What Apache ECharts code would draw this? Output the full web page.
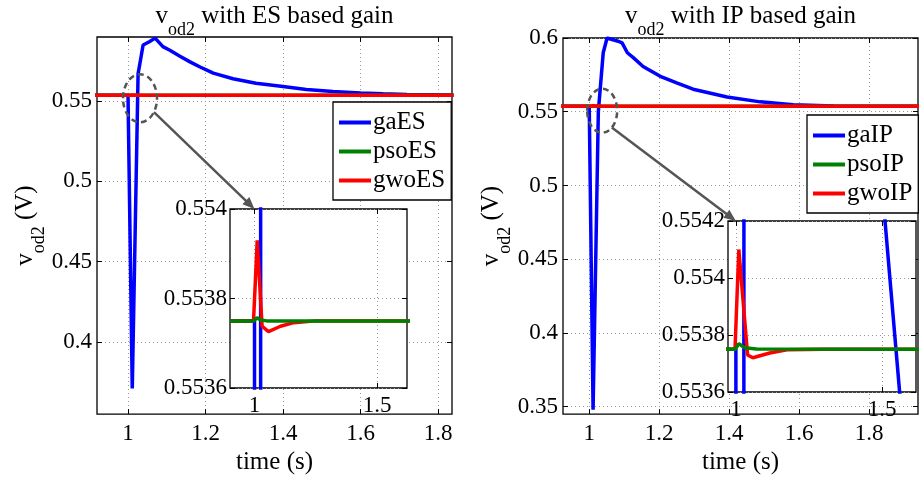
<!DOCTYPE html>
<html>
<head>
<meta charset="utf-8">
<script src="https://cdn.jsdelivr.net/npm/echarts@6/dist/echarts.min.js"></script>
<style>
html, body { margin: 0; padding: 0; background: #fff; }
#chart { width: 919px; height: 480px; }
</style>
</head>
<body>
<div id="chart"></div>
<script>
// tick positions
var timeTicks = [1, 1.2, 1.4, 1.6, 1.8];
var zoomTimeTicks = [1, 1.5];
var esTicks = [0.4, 0.45, 0.5, 0.55];
var ipTicks = [0.35, 0.4, 0.45, 0.5, 0.55, 0.6];
var esZoomTicks = [0.5536, 0.5538, 0.554];
var ipZoomTicks = [0.5536, 0.5538, 0.554, 0.5542];

// ES based gain
var gaEsTime = [0.9, 1.0, 1.011, 1.026, 1.039, 1.055, 1.07, 1.09, 1.108, 1.134, 1.16, 1.186, 1.22, 1.271, 1.33, 1.4, 1.46, 1.529, 1.6, 1.658, 1.72, 1.84];
var gaEsVal = [0.55375, 0.55375, 0.371, 0.567, 0.585, 0.587, 0.5893, 0.584, 0.5817, 0.578, 0.5745, 0.5713, 0.5675, 0.564, 0.5612, 0.5592, 0.5573, 0.556, 0.5551, 0.5546, 0.5541, 0.5538];
var psoEsTime = [0.9, 0.998, 1.01, 1.025, 1.05, 1.84];
var psoEsVal = [0.55375, 0.55375, 0.553757, 0.553752, 0.55375, 0.55375];
var gwoEsTime = [0.9, 0.996, 1.011, 1.031, 1.057, 1.106, 1.16, 1.25, 1.84];
var gwoEsVal = [0.55375, 0.55375, 0.55393, 0.553738, 0.553726, 0.553738, 0.553746, 0.55375, 0.55375];

// IP based gain
var gaIpTime = [0.9, 1.0, 1.011, 1.026, 1.04, 1.051, 1.08, 1.094, 1.109, 1.126, 1.154, 1.203, 1.25, 1.297, 1.394, 1.489, 1.583, 1.7, 1.95];
var gaIpVal = [0.55375, 0.55375, 0.348, 0.55, 0.59, 0.6, 0.598, 0.5967, 0.59, 0.5867, 0.5807, 0.574, 0.5695, 0.5653, 0.56, 0.5567, 0.5547, 0.5539, 0.5537];
var gaIpZoomTime = [0.9, 1.0, 1.011, 1.026, 1.04, 1.051, 1.5, 1.51, 1.56, 1.62];
var gaIpZoomVal = [0.55375, 0.55375, 0.348, 0.55, 0.59, 0.6, 0.5546, 0.5542, 0.5536, 0.5529];
var psoIpTime = [0.9, 0.998, 1.01, 1.03, 1.07, 1.95];
var psoIpVal = [0.55375, 0.55375, 0.55377, 0.553755, 0.553751, 0.55375];
var gwoIpTime = [0.9, 0.997, 1.01, 1.04, 1.058, 1.116, 1.175, 1.3, 1.95];
var gwoIpVal = [0.55375, 0.55375, 0.5541, 0.55373, 0.55372, 0.553737, 0.553748, 0.55375, 0.55375];

var FONT = 'Liberation Serif';
var BLUE = '#0000ff', GREEN = '#008000', RED = '#ff0000';

function zip(t, v) {
	return t.map(function (x, i) { return [x, v[i]]; });
}

// grids: 0 ES main, 1 IP main, 2 ES zoom, 3 IP zoom
var boxes = [
	{ left: 97, top: 37, width: 355, height: 385 },
	{ left: 563, top: 38, width: 355, height: 384 },
	{ left: 230, top: 209, width: 177, height: 179 },
	{ left: 728, top: 221, width: 188, height: 171 }
];
var xRange = [[0.92, 1.836], [0.925, 1.94], [0.9, 1.622], [0.973, 1.616]];
var yRange = [[0.355, 0.59], [0.345, 0.6], [0.5536, 0.554], [0.5536, 0.5542]];
var xTickSets = [timeTicks, timeTicks, zoomTimeTicks, zoomTimeTicks];
var yTickSets = [esTicks, ipTicks, esZoomTicks, ipZoomTicks];

// v with subscript od2
function richSub(key) {
	var o = {
		v: { fontSize: 25, fontFamily: FONT, lineHeight: 26, verticalAlign: 'top' },
		s: { fontSize: 18, fontFamily: FONT, lineHeight: 18, padding: [17, 0, 0, 0], verticalAlign: 'top' }
	};
	o.v[key] = '#000';
	o.s[key] = '#000';
	return o;
}

function axis(dim, i, mirror) {
	var zoom = i >= 2;
	var ticks = dim === 'x' ? xTickSets[i] : yTickSets[i];
	var range = dim === 'x' ? xRange[i] : yRange[i];
	var a = {
		type: 'value',
		gridIndex: i,
		min: range[0],
		max: range[1],
		z: zoom ? 6 : 0,
		axisLine: { show: false },
		axisTick: { show: true, inside: true, length: 5, customValues: ticks, lineStyle: { color: '#000' } },
		axisLabel: {
			show: !mirror,
			customValues: ticks,
			fontFamily: FONT,
			fontSize: 23,
			color: '#000',
			margin: dim === 'x' ? (zoom ? 6 : 8) : (zoom ? 3 : 5)
		},
		splitLine: { show: !mirror, lineStyle: { color: '#999', width: 1, type: [1, 3] } }
	};
	if (dim === 'x') a.position = mirror ? 'top' : 'bottom';
	else a.position = mirror ? 'right' : 'left';
	if (!mirror && !zoom) {
		if (dim === 'x') {
			a.name = 'time (s)';
			a.nameLocation = 'middle';
			a.nameGap = 28;
			a.nameTextStyle = { fontFamily: FONT, fontSize: 25, color: '#000' };
		} else {
			a.name = '{v|v}{s|od2}{v| (V)}';
			a.nameLocation = 'middle';
			a.nameRotate = 90;
			a.nameGap = 55;
			a.nameTextStyle = { rich: richSub('color') };
		}
	}
	return a;
}

var xAxes = [], yAxes = [];
[false, true].forEach(function (m) {
	for (var i = 0; i < 4; i++) {
		xAxes.push(axis('x', i, m));
		yAxes.push(axis('y', i, m));
	}
});

function line(name, grid, data, color, z) {
	return {
		name: name,
		type: 'line',
		xAxisIndex: grid,
		yAxisIndex: grid,
		data: data,
		symbol: 'none',
		showSymbol: false,
		clip: true,
		z: z,
		lineStyle: { color: color, width: 3.5 },
		itemStyle: { color: color },
		animation: false
	};
}

var series = [
	line('gaES', 0, zip(gaEsTime, gaEsVal), BLUE, 2),
	line('psoES', 0, zip(psoEsTime, psoEsVal), GREEN, 2),
	line('gwoES', 0, zip(gwoEsTime, gwoEsVal), RED, 3),
	line('gaES', 2, zip(gaEsTime, gaEsVal), BLUE, 10),
	line('gwoES', 2, zip(gwoEsTime, gwoEsVal), RED, 11),
	line('psoES', 2, zip(psoEsTime, psoEsVal), GREEN, 12),
	line('gaIP', 1, zip(gaIpTime, gaIpVal), BLUE, 2),
	line('psoIP', 1, zip(psoIpTime, psoIpVal), GREEN, 2),
	line('gwoIP', 1, zip(gwoIpTime, gwoIpVal), RED, 3),
	line('gaIP', 3, zip(gaIpZoomTime, gaIpZoomVal), BLUE, 10),
	line('gwoIP', 3, zip(gwoIpTime, gwoIpVal), RED, 11),
	line('psoIP', 3, zip(psoIpTime, psoIpVal), GREEN, 12)
];

function legend(names, left, top) {
	return {
		data: names,
		orient: 'vertical',
		left: left,
		top: top,
		padding: [8, 6, 7, 6],
		itemGap: 4,
		itemWidth: 32,
		itemHeight: 4,
		icon: 'rect',
		backgroundColor: '#fff',
		borderColor: '#000',
		borderWidth: 1.3,
		textStyle: { fontFamily: FONT, fontSize: 25, color: '#000', padding: [0, 0, 0, -3] }
	};
}

var chart = echarts.init(document.getElementById('chart'), null, { renderer: 'canvas' });
chart.setOption({
	backgroundColor: '#fff',
	animation: false,
	grid: boxes.map(function (b, i) {
		return {
			left: b.left, top: b.top, width: b.width, height: b.height,
			show: true,
			z: i >= 2 ? 5 : 0,
			backgroundColor: '#fff',
			borderColor: '#000',
			borderWidth: 1.3
		};
	}),
	xAxis: xAxes,
	yAxis: yAxes,
	legend: [
		legend(['gaES', 'psoES', 'gwoES'], 333, 102),
		legend(['gaIP', 'psoIP', 'gwoIP'], 807, 115)
	],
	series: series
});

// titles, dashed ellipses and arrows
function title(i, label) {
	return {
		type: 'text',
		x: boxes[i].left + boxes[i].width / 2,
		y: 4,
		z: 20,
		style: {
			text: '{v|v}{s|od2}{v| ' + label + '}',
			align: 'center',
			rich: richSub('fill')
		}
	};
}

function callout(mainGrid, center, zoomGrid, tipAt, rx, ry, angle) {
	var c = chart.convertToPixel({ gridIndex: mainGrid }, center);
	var tip = chart.convertToPixel({ gridIndex: zoomGrid }, tipAt);
	var a = angle * Math.PI / 180;
	var sx = c[0] + rx * Math.cos(a), sy = c[1] + ry * Math.sin(a);
	var dx = tip[0] - sx, dy = tip[1] - sy;
	var len = Math.sqrt(dx * dx + dy * dy);
	var ux = dx / len, uy = dy / len;
	var bx = tip[0] - ux * 12, by = tip[1] - uy * 12;
	var grey = '#555';
	return [
		{
			type: 'ellipse', z: 20,
			shape: { cx: c[0], cy: c[1], rx: rx, ry: ry },
			style: { fill: 'none', stroke: grey, lineWidth: 2.5, lineDash: [6, 4] }
		},
		{
			type: 'line', z: 20,
			shape: { x1: sx, y1: sy, x2: bx + ux * 2, y2: by + uy * 2 },
			style: { stroke: grey, lineWidth: 2.5 }
		},
		{
			type: 'polygon', z: 20,
			shape: { points: [[tip[0], tip[1]], [bx - uy * 5, by + ux * 5], [bx + uy * 5, by - ux * 5]] },
			style: { fill: grey }
		}
	];
}

var graphics = [title(0, 'with ES based gain'), title(1, 'with IP based gain')]
	.concat(callout(0, [1.031, 0.5518], 2, [1.0, 0.554], 17, 24, 35))
	.concat(callout(1, [1.037, 0.5507], 3, [1.0, 0.5542], 15, 22, 50));
chart.setOption({ graphic: graphics });
</script>
</body>
</html>
